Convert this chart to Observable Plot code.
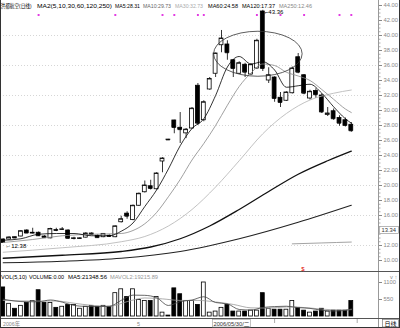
<!DOCTYPE html>
<html><head><meta charset="utf-8">
<script src="https://cdn.jsdelivr.net/npm/d3@7"></script>
<script src="https://cdn.jsdelivr.net/npm/@observablehq/plot@0.6"></script>
<style>
body{margin:0;background:#fff;}
#wrap{position:relative;width:400px;height:328px;overflow:hidden;background:#fff;font-family:"Liberation Sans",Arial,"Noto Sans CJK SC",sans-serif;}
#wrap svg{position:absolute;left:0;}
</style></head><body><div id="wrap"></div>
<script>
// ---- candle data (daily OHLC) ----
const opens  = [12.8,12.8,13.1,13.2,14.0,13.6,13.7,13.2,12.95,14.05,14.1,14.0,12.9,12.9,13.05,13.6,13.3,13.1,13.3,13.1,15.1,16.25,15.4,17.3,19.1,19.9,19.5,23.2,26.12,28.67,27.7,26.95,27.6,33.3,28.7,32.8,34.9,38.7,38.8,36.7,34.9,36.1,34.8,35.6,43.2,34.0,34.4,31.7,31.3,32.3,37.1,34.7,31.6,32.6,32.0,29.4,29.9,29.0,28.7,28.1];
const highs  = [12.9,13.15,13.15,14.0,14.1,14.3,13.8,13.3,14.3,14.3,14.4,14.1,13.1,13.05,13.7,13.7,13.4,13.6,13.4,14.6,15.9,16.5,17.4,19.0,20.6,20.7,21.7,23.7,26.15,28.7,29.73,27.6,30.4,33.6,31.3,34.4,37.65,40.67,39.3,36.8,36.5,36.3,36.2,39.5,43.36,35.7,34.5,32.4,32.5,35.8,37.6,34.8,32.7,32.9,32.2,30.4,30.2,29.3,29.0,28.4];
const lows   = [12.38,12.75,12.95,13.15,13.6,13.55,13.2,12.95,12.9,13.85,14.0,12.85,12.75,12.8,13.0,13.4,13.0,13.05,13.1,13.05,15.0,15.5,15.3,17.2,19.0,19.4,19.4,21.7,26.05,26.9,25.6,26.25,27.5,28.0,28.5,32.7,34.4,37.7,36.7,34.4,34.8,34.4,34.7,35.5,35.2,33.6,31.1,30.4,31.2,32.2,34.9,32.1,31.4,31.6,29.6,29.2,28.7,27.9,27.8,27.1];
const closes = [12.4,13.07,13.0,13.9,13.65,13.7,13.3,13.05,14.2,14.0,14.15,12.95,12.95,12.95,13.6,13.45,13.05,13.55,13.2,14.55,15.5,15.9,17.3,18.9,20.0,19.6,21.6,23.6,26.08,27.73,27.45,27.45,30.25,28.3,31.1,34.2,37.6,39.6,37.7,35.6,36.3,35.1,36.1,39.3,35.6,34.7,31.6,31.07,32.4,35.6,35.1,32.3,32.5,32.1,29.8,29.6,28.9,28.3,28.0,27.3];
const volumes = [940,410,250,345,440,500,850,440,440,280,315,375,375,250,315,345,315,345,315,755,880,630,880,535,500,500,630,125,30,910,720,500,500,375,1100,125,160,280,375,160,160,160,190,190,755,250,220,220,220,500,280,190,125,160,250,160,190,190,190,500];

// ---- moving-average lines (index, value) ----
const ma5Idx  = [0,3,6,9,12,15,18,20,22,24,26,28,30,32,34,36,38,40,42,44,46,48,50,52,54,56,58,59];
const ma5Val  = [12.7,12.9,13.5,13.6,13.6,13.3,13.3,13.9,15.0,17.2,19.4,22.2,25.3,27.6,28.9,32.0,35.8,37.2,36.2,36.5,35.4,33.1,33.3,33.5,32.3,30.5,28.9,28.31];
const ma10Idx = [0,5,10,15,20,22,24,26,28,30,32,34,36,38,40,42,44,46,48,50,52,54,56,58,59];
const ma10Val = [12.4,12.8,13.3,13.5,13.6,14.0,14.9,16.4,18.5,20.8,23.4,25.6,28.0,30.7,33.2,35.0,36.2,36.0,35.1,34.6,34.0,32.8,31.5,30.2,29.73];
const ma30Idx = [0,10,20,24,28,32,36,40,44,48,52,56,59];
const ma30Val = [11.1,11.7,12.5,13.2,14.6,16.8,19.8,23.3,26.9,29.6,31.4,32.3,32.73];
const ma60Idx = [0,10,20,25,30,35,40,45,50,55,59];
const ma60Val = [10.3,10.7,11.2,11.8,12.9,14.6,16.8,19.2,21.5,23.3,24.58];
const ma120Idx = [0,10,20,30,40,50,59];
const ma120Val = [9.7,9.9,10.3,11.2,12.9,15.1,17.37];
const ma250Idx = [49,54,59];
const ma250Val = [12.22,12.34,12.46];

const vma5Idx = [0,2,4,6,8,10,12,14,16,18,20,22,24,26,28,30,32,34,36,38,40,42,44,46,48,50,52,54,56,58,59];
const vma5Val = [560,500,477,477,534,465,357,326,320,327,522,692,685,609,357,483,532,639,452,408,227,209,291,321,333,288,263,201,177,196,246];
const vma10Idx = [0,5,9,12,15,18,21,24,27,30,33,36,39,42,45,48,51,54,57,59];
const vma10Val = [520,500,500,430,360,330,480,600,570,520,520,470,390,280,270,310,290,240,210,223];

// ---- ticks / labels ----
const priceTicks = [44,42,40,38,36,34,32,30,28,26,24,22,20,18,16,12,10];
const priceGrid = [40,36,32,28,24,20,16,12];
const cursorPrice = "13.34", cursorTickAt = 14;
const volTicks = [550,1100];
const eventIdx = [6,19,27,29,33,34,43,47,51,57,59];
const oval = {i:43.25, price:37.5, ri:7.5, rp:3.0};
const monthLabels = [{i:23, t:"5"}];
const monthTicks = [46, 60];

const headerMain = [
  {t:"洪都航空(日线)", x:0.5, w:31, c:"#000", s:5.2},
  {t:"MA2(5,10,30,60,120,250)", x:37, w:75, c:"#000", s:6},
  {t:"MA5:28.31", x:115, w:25, c:"#000", s:5.5},
  {t:"MA10:29.73", x:143, w:28, c:"#666", s:5.5},
  {t:"MA30:32.73", x:175, w:28, c:"#aaa", s:5.5},
  {t:"MA60:24.58", x:208, w:30, c:"#000", s:5.8},
  {t:"MA120:17.37", x:242, w:33, c:"#000", s:5.8},
  {t:"MA250:12.46", x:279, w:33, c:"#888", s:5.8}
];
const headerVol = [
  {t:"VOL(5,10)", x:1, w:26, c:"#000", s:5.8},
  {t:"VOLUME:0.00", x:29, w:35, c:"#000", s:5.8},
  {t:"MA5:21348.56", x:68, w:39, c:"#000", s:5.8},
  {t:"MAVOL2:19215.89", x:110, w:48, c:"#999", s:5.8}
];

// ---- build ----
const candles = opens.map((o,i)=>({i, open:o, high:highs[i], low:lows[i], close:closes[i], down: closes[i] <= opens[i]}));
const vols = volumes.map((v,i)=>({i, v, down: candles[i].down}));
const pts = (idx, val) => idx.map((i,k)=>({i, v:val[k]}));
const minor = d3.range(10, 44.01, 0.5).filter(v => !priceTicks.includes(v) && v !== cursorTickAt);
const xOpt = {type:"linear", domain:[0,59], range:[2.7, 350.8], axis:null};
const font = "Liberation Sans, Arial, Noto Sans CJK SC, sans-serif";
const hw = 0.33;

const main = Plot.plot({
  width:400, height:271, marginLeft:0, marginRight:22, marginTop:0, marginBottom:0,
  x: xOpt,
  y: {type:"linear", domain:[44 + 5/7.5 - 271/7.5, 44 + 5/7.5], range:[271, 0]},
  color: {type:"identity"},
  style: {fontSize:"5.8px", fontFamily:font, background:"transparent", overflow:"visible"},
  marks: [
    Plot.ruleY(priceGrid, {stroke:"#bbb", strokeDasharray:"1,2", strokeWidth:0.6}),
    Plot.axisY({anchor:"right", ticks: priceTicks, tickFormat: d=>d.toFixed(2), tickSize:3, tickPadding:2, color:"#888"}),
    Plot.axisY({anchor:"right", ticks: minor, tickFormat: ()=>"", tickSize:1.5, color:"#aaa"}),
    Plot.ruleX(candles, {x:"i", y1:"low", y2:"high", stroke:"#000", strokeWidth:0.8}),
    Plot.rect(candles, {x1:d=>d.i-hw, x2:d=>d.i+hw, y1:"open", y2:"close", fill:d=>d.down?"#000":"#fff", stroke:"#000", strokeWidth:0.8}),
    Plot.ruleY(candles, {x1:d=>d.i-hw, x2:d=>d.i+hw, y:"close", stroke:"#000", strokeWidth:0.8}),
    Plot.line(pts(ma120Idx, ma120Val), {x:"i", y:"v", stroke:"#222", strokeWidth:1.1, curve:"monotone-x"}),
    Plot.line(pts(ma60Idx, ma60Val), {x:"i", y:"v", stroke:"#111", strokeWidth:1.3, curve:"monotone-x"}),
    Plot.line(pts(ma250Idx, ma250Val), {x:"i", y:"v", stroke:"#999", strokeWidth:0.9, curve:"monotone-x"}),
    Plot.line(pts(ma30Idx, ma30Val), {x:"i", y:"v", stroke:"#bbb", strokeWidth:0.9, curve:"monotone-x"}),
    Plot.line(pts(ma10Idx, ma10Val), {x:"i", y:"v", stroke:"#888", strokeWidth:0.8, curve:"monotone-x"}),
    Plot.line(pts(ma5Idx, ma5Val), {x:"i", y:"v", stroke:"#000", strokeWidth:0.8, curve:"monotone-x"}),
    Plot.dot(eventIdx, {x:d=>d, frameAnchor:"top", dy:14.5, symbol:"square", r:1.1, fill:"#e23be2", stroke:null}),
    Plot.text([candles[44]], {x:"i", y:"high", text:d=>"⌐"+d.high.toFixed(2), dx:2, dy:2, textAnchor:"start", fill:"#000", fontSize:6}),
    Plot.text([candles[0]], {x:"i", y:"low", text:d=>"←"+d.low.toFixed(2), dx:2, dy:3, textAnchor:"start", fill:"#000", fontSize:6}),
    Plot.text([cursorTickAt], {y:d=>d, text:[cursorPrice], frameAnchor:"right", dx:3, textAnchor:"start", fill:"#333", fontSize:5.8})
  ]
});

const vol = Plot.plot({
  width:400, height:57, marginLeft:0, marginRight:22, marginTop:0, marginBottom:0,
  x: xOpt,
  y: {type:"linear", domain:[0,1100], range:[45, 11]},
  color: {type:"identity"},
  style: {fontSize:"5.8px", fontFamily:font, background:"transparent", overflow:"visible"},
  marks: [
    Plot.axisY({anchor:"right", ticks: volTicks, tickFormat: d=>String(d), tickSize:3, tickPadding:2, color:"#888"}),
    Plot.rect(vols, {x1:d=>d.i-hw, x2:d=>d.i+hw, y1:0, y2:"v", fill:d=>d.down?"#000":"#fff", stroke:"#000", strokeWidth:0.8}),
    Plot.line(pts(vma10Idx, vma10Val), {x:"i", y:"v", stroke:"#999", strokeWidth:0.8, curve:"monotone-x"}),
    Plot.line(pts(vma5Idx, vma5Val), {x:"i", y:"v", stroke:"#444", strokeWidth:0.8, curve:"monotone-x"})
  ]
});

const wrap = document.getElementById("wrap");
main.style.top = "0px"; vol.style.top = "271px";
wrap.appendChild(main); wrap.appendChild(vol);

// oval annotation from scales
const sx = main.scale("x"), sy = main.scale("y");
const cx = sx.apply(oval.i), cy = sy.apply(oval.price);
d3.select(main).append("ellipse").attr("cx", cx).attr("cy", cy)
  .attr("rx", sx.apply(oval.i + oval.ri) - cx).attr("ry", sy.apply(oval.price - oval.rp) - cy)
  .attr("fill","none").attr("stroke","#333").attr("stroke-width",0.8);

// box around cursor price
const cyBox = sy.apply(cursorTickAt);
d3.select(main).insert("rect", "g").attr("x", 379.5).attr("y", cyBox-3.5).attr("width", 19).attr("height", 7)
  .attr("fill","#fff").attr("stroke","#888").attr("stroke-width",0.6);

// overlay frame + texts
const ov = d3.select(wrap).append("svg").attr("width",400).attr("height",328)
  .style("top","0px").style("font-family", font);
const line = (x1,y1,x2,y2,c,w)=>ov.append("line").attr("x1",x1).attr("y1",y1).attr("x2",x2).attr("y2",y2).attr("stroke",c).attr("stroke-width",w||1);
line(378.5,0,378.5,328,"#999");
line(0,271.5,400,271.5,"#555");
line(0,318.5,400,318.5,"#555");
line(0.5,0,0.5,328,"#333");
line(399.5,0,399.5,328,"#333");
line(0,327.5,400,327.5,"#333");

function seg(s, y, size){
  ov.append("text").attr("x", s.x).attr("y", y).attr("textLength", s.w).attr("lengthAdjust","spacingAndGlyphs")
    .attr("fill", s.c).style("font-size", (s.s || size)+"px").text(s.t);
}
headerMain.forEach(s=>seg(s, 7.5, 6));
headerVol.forEach(s=>seg(s, 279, 6));

// bottom date row
seg({t:"2006年", x:3, w:17, c:"#888"}, 325.5, 5.5);
monthLabels.forEach(m=>seg({t:m.t, x:sx.apply(m.i)-1.5, w:3, c:"#888"}, 325.5, 5.5));
monthTicks.forEach(i=>line(sx.apply(i)+0.5, 319, sx.apply(i)+0.5, 323, "#aaa"));
ov.append("rect").attr("x",212.5).attr("y",319.5).attr("width",38).attr("height",7.5).attr("fill","#fff").attr("stroke","#999").attr("stroke-width",0.6);
seg({t:"2006/05/30/二", x:213.5, w:36, c:"#333"}, 325.5, 5.5);
ov.append("rect").attr("x",382.5).attr("y",319.5).attr("width",16).attr("height",7.5).attr("fill","#fff").attr("stroke","#666").attr("stroke-width",0.6);
seg({t:"日线", x:384.5, w:12, c:"#000"}, 325.5, 5.8);
ov.append("text").attr("x", 303).attr("y", 271).attr("fill","#e00000").style("font-size","6px").attr("text-anchor","middle").text("$");
</script></body></html>
